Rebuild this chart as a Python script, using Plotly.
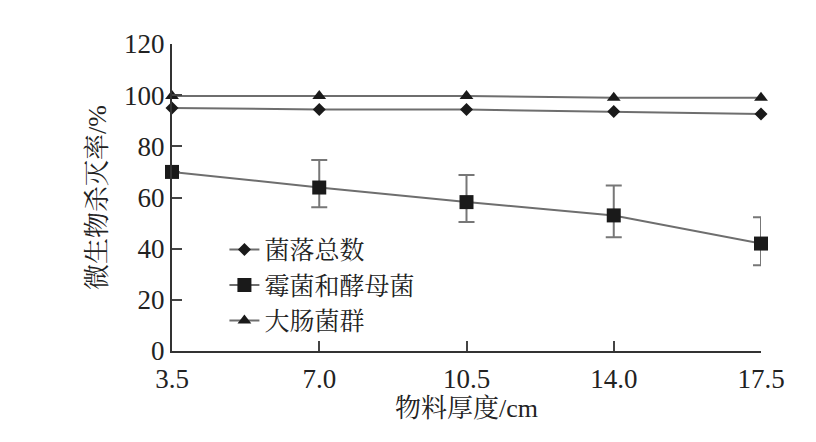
import plotly.graph_objects as go

thickness = [3.5, 7.0, 10.5, 14.0, 17.5]
tick_labels = ["3.5", "7.0", "10.5", "14.0", "17.5"]

total_colony = [95.0, 94.4, 94.4, 93.6, 92.6]
mold_yeast = [70.0, 63.9, 58.2, 53.0, 42.0]
mold_err_plus = [0.0, 10.8, 10.6, 11.7, 10.3]
mold_err_minus = [0.0, 7.7, 7.8, 8.5, 8.5]
coliform = [99.7, 99.7, 99.7, 99.0, 99.0]

FONT = "Liberation Serif, Noto Serif CJK SC, Noto Sans CJK SC, serif"
LINE = "#6e6e6e"
MARK = "#1a1a1a"

fig = go.Figure()
fig.add_trace(go.Scatter(
    x=thickness, y=total_colony, name="菌落总数", mode="lines+markers",
    line=dict(color=LINE, width=2),
    marker=dict(symbol="diamond", size=10, color=MARK),
    cliponaxis=False))
fig.add_trace(go.Scatter(
    x=thickness, y=mold_yeast, name="霉菌和酵母菌", mode="lines+markers",
    line=dict(color=LINE, width=2),
    marker=dict(symbol="square", size=14, color=MARK),
    error_y=dict(type="data", array=mold_err_plus, arrayminus=mold_err_minus,
                 symmetric=False, color="#777777", thickness=2, width=8),
    cliponaxis=False))
fig.add_trace(go.Scatter(
    x=thickness, y=coliform, name="大肠菌群", mode="lines+markers",
    line=dict(color=LINE, width=2),
    marker=dict(symbol="triangle-up", size=12, color=MARK),
    cliponaxis=False))

fig.update_layout(
    width=816, height=442,
    margin=dict(l=164, r=63, t=36, b=99),
    paper_bgcolor="white", plot_bgcolor="white",
    font=dict(family=FONT, size=26, color="#222222"),
    showlegend=True,
    legend=dict(x=0.089, y=0.405, xanchor="left", yanchor="top",
                bgcolor="rgba(0,0,0,0)", font=dict(size=25, family=FONT),
                itemsizing="trace", tracegroupgap=0),
    xaxis=dict(
        range=[3.5, 17.5], tickvals=thickness, ticktext=tick_labels,
        showline=True, linecolor="#333333", linewidth=2,
        ticks="inside", ticklen=10, tickwidth=2, tickcolor="#444444",
        showgrid=False, zeroline=False, automargin=False,
        tickfont=dict(size=27, family=FONT), ticklabelstandoff=3,
        title=dict(text="物料厚度/cm", font=dict(size=26, family=FONT), standoff=2),
    ),
    yaxis=dict(
        range=[0, 120], tickvals=[0, 20, 40, 60, 80, 100, 120],
        showline=True, linecolor="#333333", linewidth=2,
        ticks="inside", ticklen=10, tickwidth=2, tickcolor="#444444",
        showgrid=False, zeroline=False, automargin=False,
        tickfont=dict(size=27, family=FONT),
        title=dict(text="微生物杀灭率/%", font=dict(size=26, family=FONT), standoff=10),
    ),
)

fig.write_html("out.html")
